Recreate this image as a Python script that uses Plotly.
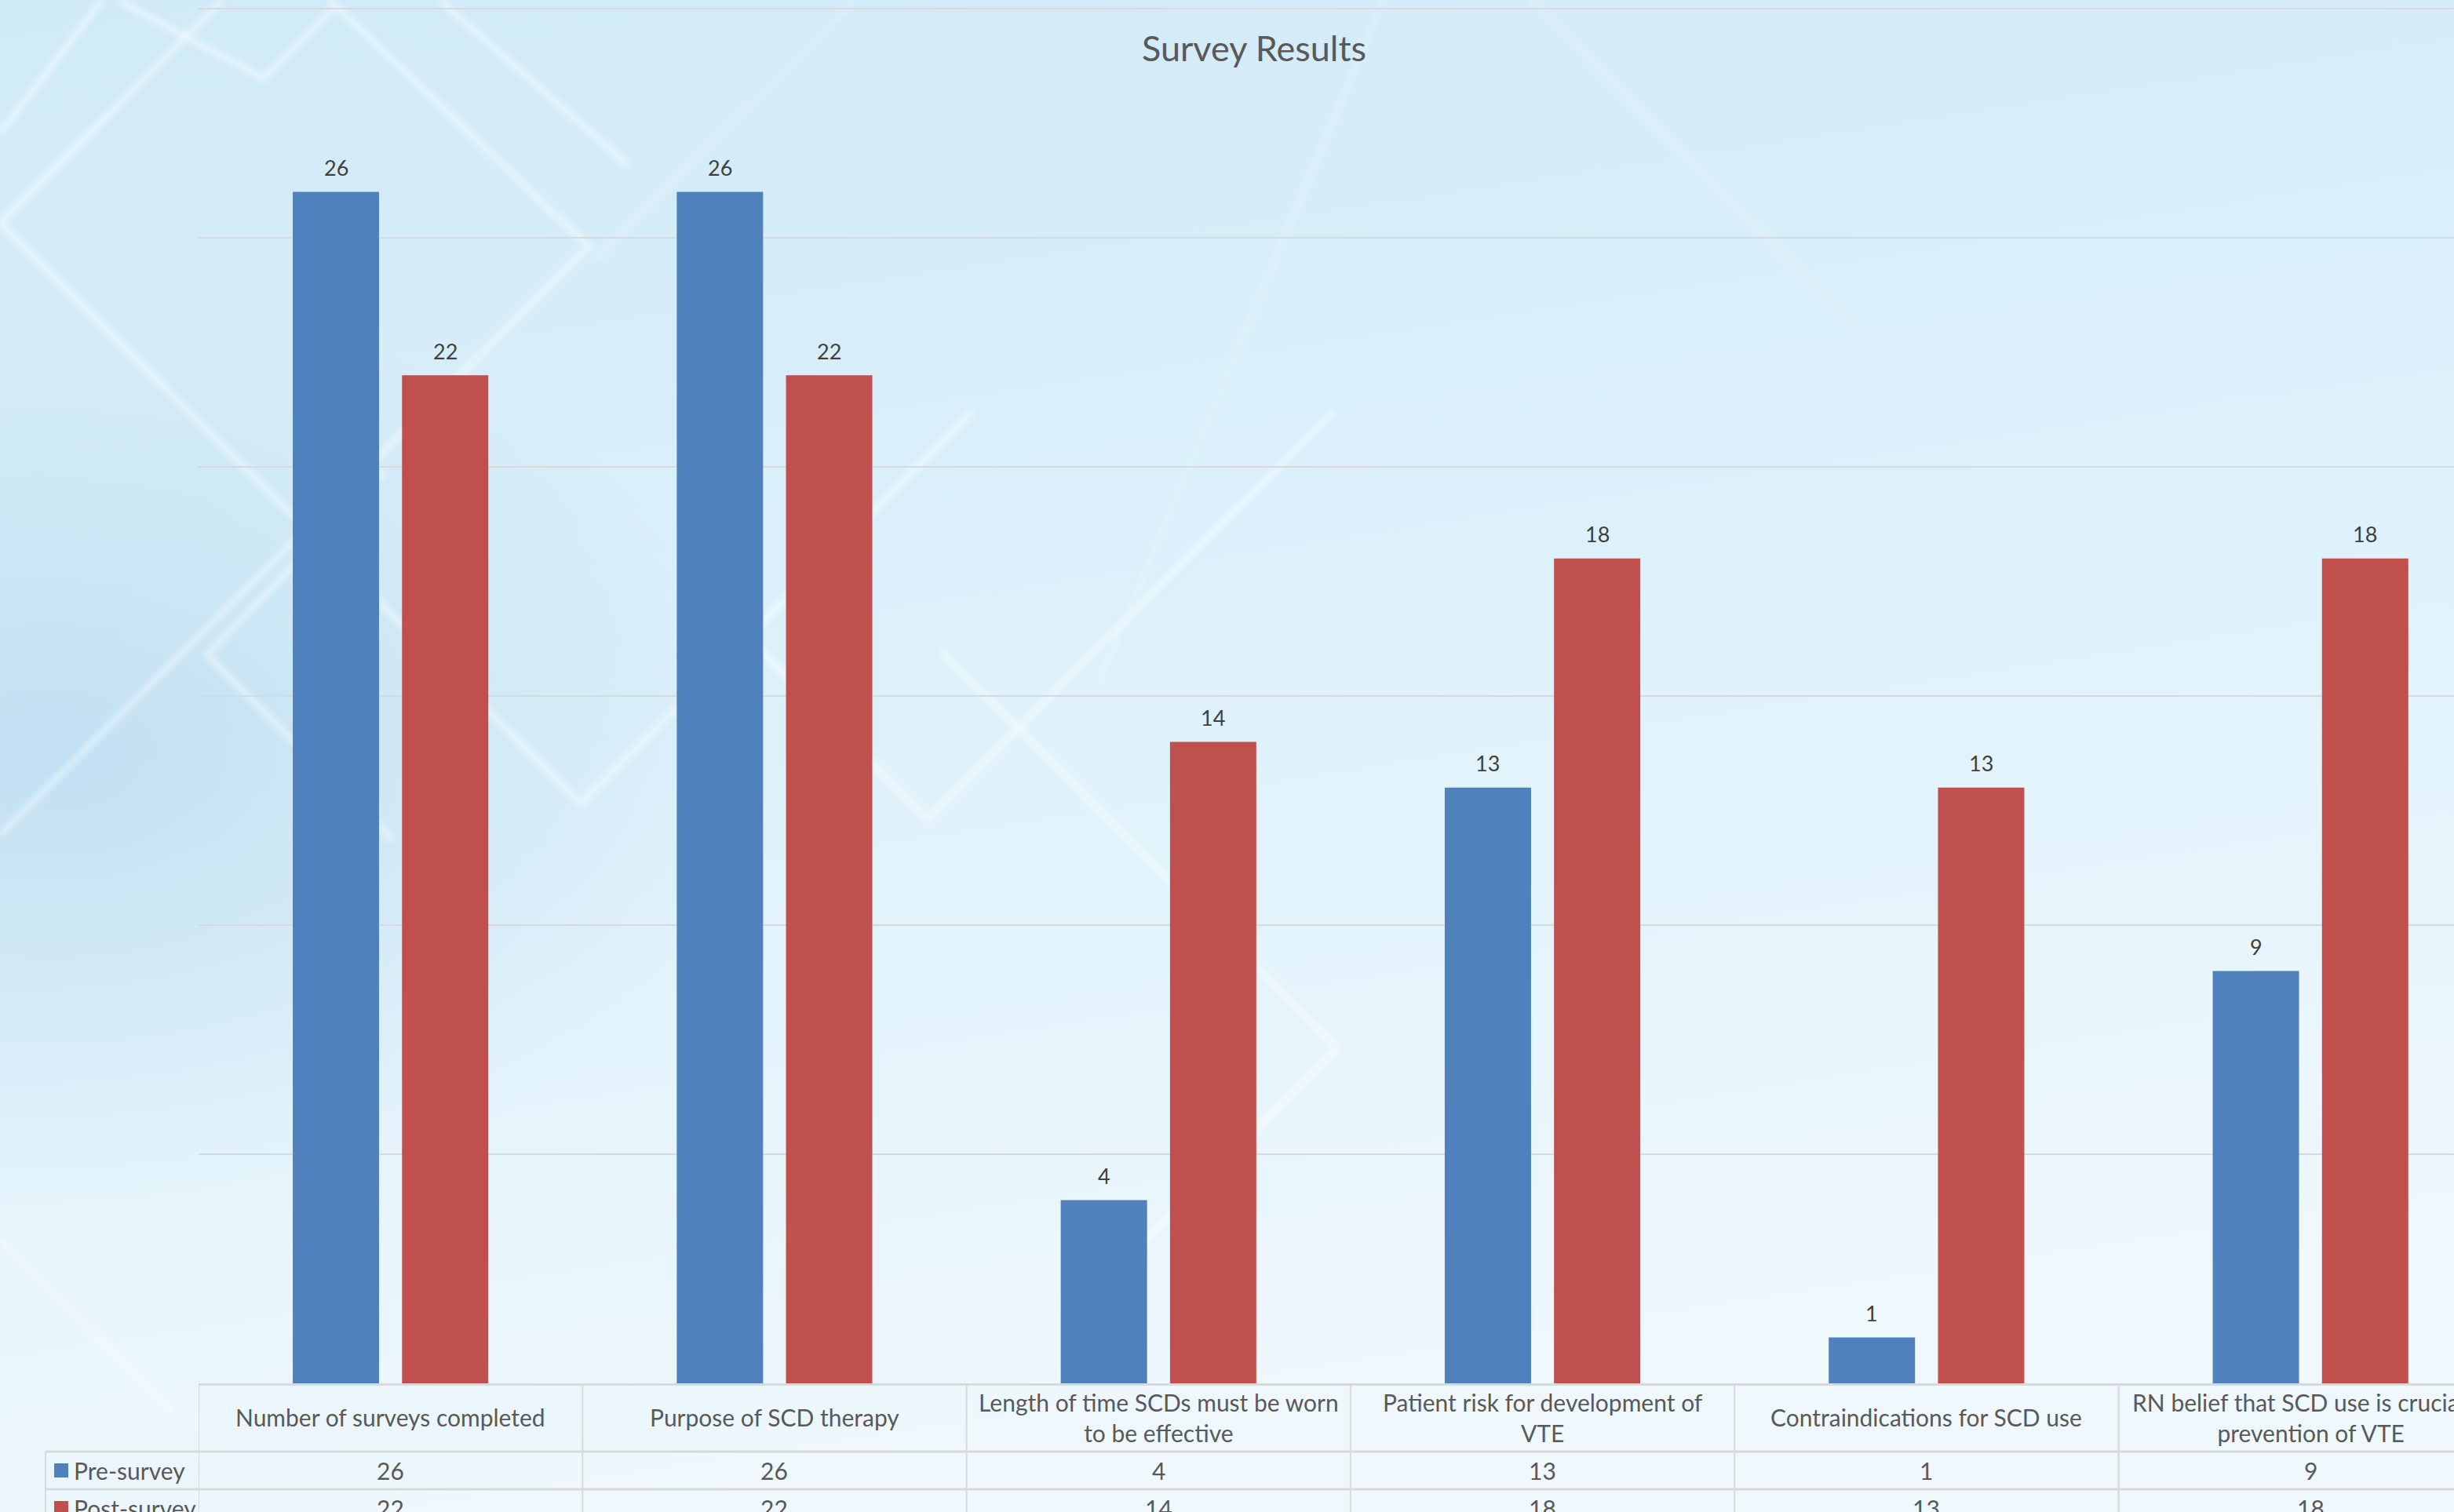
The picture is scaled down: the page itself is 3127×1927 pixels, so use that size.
import base64
import plotly.graph_objects as go

# ---------------- data ----------------
categories = [
    "Number of surveys completed",
    "Purpose of SCD therapy",
    "Length of time SCDs must be worn to be effective",
    "Patient risk for development of VTE",
    "Contraindications for SCD use",
    "RN belief that SCD use is crucial in prevention of VTE",
]
header_labels = [
    "Number of surveys completed",
    "Purpose of SCD therapy",
    "Length of time SCDs must be worn<br>to be effective",
    "Patient risk for development of<br>VTE",
    "Contraindications for SCD use",
    "RN belief that SCD use is crucial in<br>prevention of VTE",
]
series_names = ["Pre-survey", "Post-survey"]
pre_survey = [26, 26, 4, 13, 1, 9]
post_survey = [22, 22, 14, 18, 13, 18]
series_values = [pre_survey, post_survey]
series_colors = ["#4F81BD", "#C0504D"]
title_text = "Survey Results"

# ---------------- layout geometry ----------------
W, H = 3127, 1927
ML, MR, MT, MB = 253, 0, 8, 164
PW, PH = W - ML - MR, H - MT - MB
COLW = 489.3          # px per category
UNIT = 58.4           # px per value unit
BARGAP, GROUPGAP = 0.431, 0.21
FONT = "Lato, 'Open Sans', sans-serif"
TXT = "#595959"
LINE = "#d9d9d9"


def py(px):  # figure pixel row -> paper y
    return (H - MB - px) / PH


def pxp(px):  # figure pixel column -> paper x
    return (px - ML) / PW


# ---------------- background artwork ----------------
lines = [
    [(0, 284), (740, 1024), (1240, 524)],
    [(420, 0), (750, 314), (0, 1064)],
    [(0, 284), (284, 0)],
    [(150, 0), (336, 100), (424, 12)],
    [(0, 170), (130, 0)],
    [(560, 0), (800, 210)],
    [(490, 600), (264, 834), (500, 1070)],
    [(940, 800), (1182, 1044), (1700, 524)],
    [(1200, 830), (1704, 1336), (1400, 1640)],
    [(0, 1580), (220, 1800)],
]
faint = [
    [(1763, 0), (1400, 870)],
    [(1950, 0), (2369, 421)],
    [(1090, 0), (760, 330)],
]


def poly(pts):
    return " ".join(f"{x},{y}" for x, y in pts)


svg = [f'<svg xmlns="http://www.w3.org/2000/svg" width="{W}" height="{H}" viewBox="0 0 {W} {H}">',
       '<defs>',
       '<linearGradient id="g" x1="0" y1="0" x2="0.25" y2="1">',
       '<stop offset="0" stop-color="#d0eaf7"/>',
       '<stop offset="0.45" stop-color="#dbf0fa"/>',
       '<stop offset="1" stop-color="#eef8fd"/>',
       '</linearGradient>',
       '<radialGradient id="r" cx="0.02" cy="0.5" r="0.3">',
       '<stop offset="0" stop-color="#b9dbef" stop-opacity="0.75"/>',
       '<stop offset="1" stop-color="#b9dbef" stop-opacity="0"/>',
       '</radialGradient>',
       '<filter id="b"><feGaussianBlur stdDeviation="3.5"/></filter>',
       '</defs>',
       f'<rect width="{W}" height="{H}" fill="url(#g)"/>',
       f'<rect width="{W}" height="{H}" fill="url(#r)"/>',
       '<g fill="none" stroke="#ffffff" stroke-opacity="0.42" stroke-width="9" filter="url(#b)">']
for p in lines:
    svg.append(f'<polyline points="{poly(p)}"/>')
svg.append('</g><g fill="none" stroke="#ffffff" stroke-opacity="0.18" stroke-width="8" filter="url(#b)">')
for p in faint:
    svg.append(f'<polyline points="{poly(p)}"/>')
svg.append('</g></svg>')
svg_uri = "data:image/svg+xml;base64," + base64.b64encode("".join(svg).encode()).decode()

# ---------------- figure ----------------
fig = go.Figure()
for name, vals, col in zip(series_names, series_values, series_colors):
    fig.add_trace(go.Bar(
        x=categories, y=vals, name=name,
        marker=dict(color=col, line=dict(width=0)),
        showlegend=False, hoverinfo="x+y+name",
    ))

shapes = []
annotations = []

# data labels above bars (offset to each bar's slot in the group)
slot = (1 - BARGAP) / len(series_values)
for s, vals in enumerate(series_values):
    off = (s - (len(series_values) - 1) / 2) * slot * COLW
    for cat, v in zip(categories, vals):
        annotations.append(dict(x=cat, y=v, xref="x", yref="y", text=str(v),
                                showarrow=False, xanchor="center", yanchor="middle",
                                xshift=off, yshift=31,
                                font=dict(family=FONT, size=27, color="#404040")))

# table column separators
n = len(categories)
for i in range(n + 1):
    shapes.append(dict(type="line", xref="x", yref="paper",
                       x0=i - 0.5, x1=i - 0.5, y0=0, y1=py(H + 40),
                       line=dict(color=LINE, width=2), layer="above"))
# row separators (extend into legend column)
for rpx in (1850, 1898, 1946):
    shapes.append(dict(type="line", xref="paper", yref="paper",
                       x0=pxp(58), x1=1.0, y0=py(rpx), y1=py(rpx),
                       line=dict(color=LINE, width=3)))
# legend column left border
shapes.append(dict(type="line", xref="paper", yref="paper",
                   x0=pxp(58), x1=pxp(58), y0=py(1850), y1=py(H + 40),
                   line=dict(color=LINE, width=2)))

# header labels
for i, lab in enumerate(header_labels):
    annotations.append(dict(x=i, y=py(1806), xref="x", yref="paper",
                            text=lab, showarrow=False, xanchor="center", yanchor="middle",
                            font=dict(family=FONT, size=30, color=TXT), align="center"))

# value rows + legend keys
row_centers = [1874, 1922]
for r, (name, vals, col) in enumerate(zip(series_names, series_values, series_colors)):
    yc = row_centers[r]
    shapes.append(dict(type="rect", xref="paper", yref="paper",
                       x0=pxp(69), x1=pxp(87), y0=py(yc - 9), y1=py(yc + 9),
                       fillcolor=col, line=dict(width=0)))
    annotations.append(dict(x=pxp(92), y=py(yc), xref="paper", yref="paper",
                            text=name, showarrow=False, xanchor="left", yanchor="middle",
                            font=dict(family=FONT, size=30, color=TXT)))
    for i, v in enumerate(vals):
        annotations.append(dict(x=i, y=py(yc), xref="x", yref="paper",
                                text=str(v), showarrow=False, xanchor="center", yanchor="middle",
                                font=dict(family=FONT, size=30, color=TXT)))

fig.update_layout(
    width=W, height=H, autosize=False,
    margin=dict(l=ML, r=MR, t=MT, b=MB, pad=0),
    paper_bgcolor="#dcf0fa", plot_bgcolor="rgba(0,0,0,0)",
    barmode="group", bargap=BARGAP, bargroupgap=GROUPGAP,
    title=dict(text=title_text, x=1598 / W, y=1 - 62 / H, xref="container", yref="container",
               xanchor="center", yanchor="middle",
               font=dict(family=FONT, size=45, color=TXT)),
    xaxis=dict(type="category", categoryorder="array", categoryarray=categories,
               range=[-0.5, -0.5 + PW / COLW], showticklabels=False, ticks="",
               showgrid=False, zeroline=False, showline=True, linecolor=LINE, linewidth=3,
               fixedrange=True),
    yaxis=dict(range=[0, PH / UNIT], tick0=0, dtick=5, showticklabels=False, ticks="",
               showgrid=True, gridcolor=LINE, gridwidth=2, zeroline=False, showline=False,
               fixedrange=True),
    shapes=shapes, annotations=annotations,
    images=[dict(source=svg_uri, xref="paper", yref="paper",
                 x=pxp(0), y=py(0), sizex=W / PW, sizey=H / PH,
                 xanchor="left", yanchor="top", sizing="stretch", layer="below")],
    showlegend=False,
)

fig.write_html("out.html",
               config={"displayModeBar": False},
               post_script="document.body.style.margin='0';document.body.style.overflow='hidden';")
